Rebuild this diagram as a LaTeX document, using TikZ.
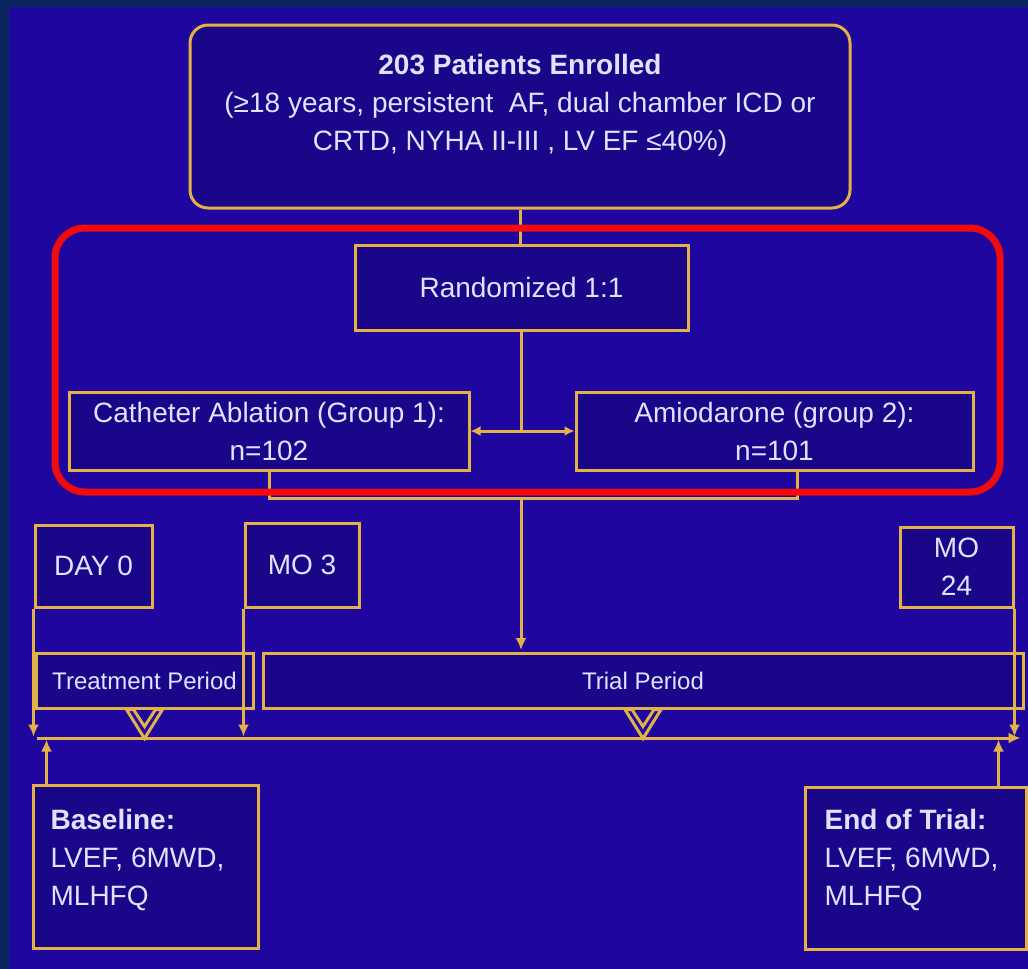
\documentclass[tikz,border=0pt]{standalone}
\usepackage{fontspec}
\setmainfont{Liberation Sans}
\usepackage{tikz}
\usetikzlibrary{arrows.meta,positioning}
\definecolor{slidebg}{RGB}{30,6,158}
\definecolor{slideedge}{RGB}{8,38,92}
\definecolor{boxfill}{RGB}{26,6,136}
\definecolor{gold}{RGB}{226,178,72}
\definecolor{lilac}{RGB}{226,226,255}
\definecolor{hilite}{RGB}{240,12,12}

\begin{document}
\begin{tikzpicture}[x=1pt, y=-1pt,
    every node/.style={text=lilac, font=\fontsize{28}{38}\selectfont},
    box/.style={draw=gold, line width=3pt, fill=boxfill, inner sep=0pt, align=center},
    periodbox/.style={font=\fontsize{24}{30}\selectfont},
    link/.style={draw=gold, line width=3pt},
    arr/.style={link, -{Latex[length=12pt,width=11pt]}, shorten >=1.5pt},
    chev/.style={draw=gold, line width=3pt, fill=slidebg, line join=miter}]
    % slide background
    \fill[slideedge] (0,0) rectangle (1028,969);
    \fill[slidebg] (9,7) rectangle (1028,969);
    \useasboundingbox (0,0) rectangle (1028,969);

    % enrolment and randomisation
    \node[box, rounded corners=18pt, minimum width=660pt, minimum height=183pt,
        label={[align=center, yshift=11pt]center:{\textbf{203 Patients Enrolled}\\(≥18 years, persistent \ AF, dual chamber ICD or\\CRTD, NYHA II-III , LV EF ≤40\%)}}]
        (enrolled) at (520,116.5) {};
    \node[box, minimum width=333pt, minimum height=85pt] (rand) at (521.5,287.5) {Randomized 1:1};
    \node[box, minimum width=400pt, minimum height=78pt] (cath) at (269,431) {Catheter Ablation (Group 1):\\n=102};
    \node[box, minimum width=397pt, minimum height=78pt] (amio) at (774.5,431) {Amiodarone (group 2):\\n=101};

    % time points and periods
    \node[box, minimum width=117pt, minimum height=82pt] (day0) at (93.5,566) {DAY 0};
    \node[box, minimum width=114pt, minimum height=84pt] (mo3) at (302,565) {MO 3};
    \node[box, minimum width=113pt, minimum height=80pt] (mo24) at (956.5,567) {MO\\24};
    \node[box, periodbox, minimum width=217pt, minimum height=55pt] (treat) at (144.5,680.5) {Treatment Period};
    \node[box, periodbox, minimum width=760pt, minimum height=55pt] (trial) at (643,680.5) {Trial Period};

    % measurements
    \node[box, minimum width=225pt, minimum height=163pt,
        label={[align=left, xshift=-8pt, yshift=7pt]center:{\textbf{Baseline:}\\LVEF, 6MWD,\\MLHFQ}}]
        (base) at (145.5,866.5) {};
    \node[box, minimum width=221pt, minimum height=162pt,
        label={[align=left, xshift=-4pt, yshift=8pt]center:{\textbf{End of Trial:}\\LVEF, 6MWD,\\MLHFQ}}]
        (endtrial) at (915.5,868) {};

    % connectors
    \draw[link] (enrolled.south) -- (enrolled.south |- rand.north);
    \draw[link] (rand.south) -- (rand.south |- cath.east);
    \draw[link, {Latex[length=10pt,width=10pt]}-{Latex[length=10pt,width=10pt]}] (cath.east) -- (amio.west);
    \coordinate (merge) at (521,498);
    \coordinate (amiofoot) at ([xshift=22.5pt]amio.south);
    \draw[link] (cath.south) |- (merge);
    \draw[link] (amiofoot) |- (merge);
    \draw[arr] (merge) -- (merge |- trial.north);

    % timeline
    \coordinate (t0) at (37,738);
    \coordinate (t1) at (1022,738);
    \draw[arr] (t0) -- (t1);
    \draw[arr] (day0.south west) -- (day0.south west |- t0);
    \draw[arr] (mo3.south west) -- (mo3.south west |- t0);
    \draw[arr] (mo24.south east) -- (mo24.south east |- t0);
    \coordinate (bup) at ([xshift=15pt]base.north west);
    \coordinate (eup) at ([xshift=-29pt]endtrial.north east);
    \draw[arr] (bup) -- (bup |- t0);
    \draw[arr] (eup) -- (eup |- t0);
    \foreach \p in {treat, trial}
        \draw[chev] ([xshift=-18pt]\p.south) -- ++(7,0) -- ++(11,17) -- ++(11,-17) -- ++(7,0) -- ++(-18,29) -- cycle;

    % highlight
    \draw[hilite, line width=7pt, rounded corners=30pt] (55,228) rectangle (1000,492);
\end{tikzpicture}
\end{document}
